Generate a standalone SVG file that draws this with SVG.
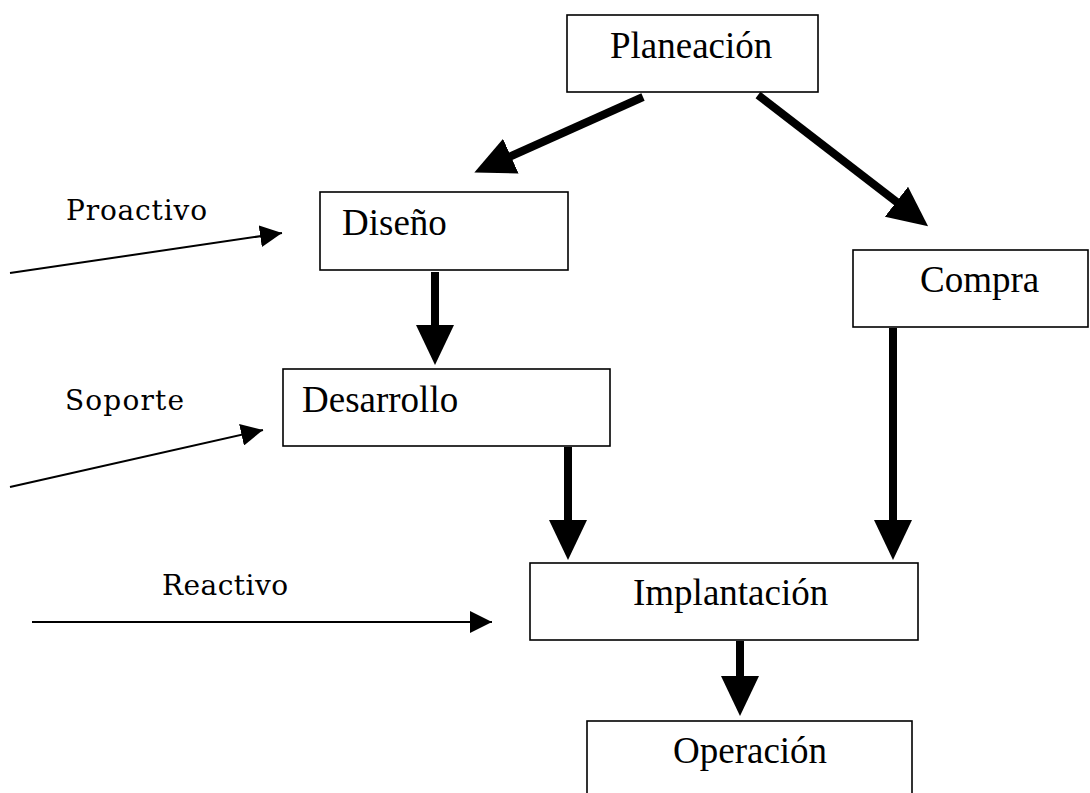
<svg xmlns="http://www.w3.org/2000/svg" width="1090" height="793" viewBox="0 0 1090 793">
  <style>
    .box { fill: #ffffff; stroke: #000000; stroke-width: 1.6; }
    .name { font-family: "Liberation Serif", "Times New Roman", serif; font-size: 37px; fill: #000000; }
    .side { font-family: "DejaVu Serif", "Liberation Serif", serif; font-size: 28px; fill: #000000; }
    .thick { stroke: #000000; stroke-width: 8; fill: none; marker-end: url(#bighead); }
    .thin { stroke: #000000; stroke-width: 2; fill: none; marker-end: url(#smallhead); }
  </style>
  <defs>
    <marker id="bighead" markerUnits="userSpaceOnUse" markerWidth="42" markerHeight="38" refX="2" refY="19" orient="auto">
      <path d="M0,0 L40,19 L0,38 z" fill="#000000"/>
    </marker>
    <marker id="smallhead" markerUnits="userSpaceOnUse" markerWidth="24" markerHeight="22" refX="22" refY="11" orient="auto">
      <path d="M0,0 L22,11 L0,22 z" fill="#000000"/>
    </marker>
  </defs>
  <rect width="1090" height="793" fill="#ffffff"/>

  <g id="connectors">
    <line class="thick" x1="643" y1="97" x2="509" y2="157"/>
    <line class="thick" x1="758" y1="95" x2="898" y2="203"/>
    <line class="thick" x1="435" y1="272" x2="435" y2="327"/>
    <line class="thick" x1="568" y1="447" x2="568" y2="522"/>
    <line class="thick" x1="893" y1="328" x2="893" y2="522"/>
    <line class="thick" x1="740" y1="641" x2="740" y2="678"/>
    <line class="thin" x1="10" y1="273" x2="282" y2="233"/>
    <line class="thin" x1="10" y1="487" x2="263" y2="430"/>
    <line class="thin" x1="32" y1="622" x2="492" y2="622"/>
  </g>

  <g id="planeacion">
    <rect class="box" x="567" y="15" width="251" height="77"/>
    <text class="name" x="610" y="58">Planeación</text>
  </g>
  <g id="diseno">
    <rect class="box" x="320" y="192" width="248" height="78"/>
    <text class="name" x="342" y="235">Diseño</text>
  </g>
  <g id="compra">
    <rect class="box" x="853" y="250" width="235" height="77"/>
    <text class="name" x="920" y="292">Compra</text>
  </g>
  <g id="desarrollo">
    <rect class="box" x="283" y="369" width="327" height="77"/>
    <text class="name" x="302" y="412">Desarrollo</text>
  </g>
  <g id="implantacion">
    <rect class="box" x="530" y="563" width="388" height="77"/>
    <text class="name" x="633" y="605">Implantación</text>
  </g>
  <g id="operacion">
    <rect class="box" x="587" y="721" width="325" height="90"/>
    <text class="name" x="673" y="763">Operación</text>
  </g>

  <g id="labels">
    <text class="side" x="66" y="220" textLength="141">Proactivo</text>
    <text class="side" x="65" y="410" textLength="119">Soporte</text>
    <text class="side" x="162" y="595" textLength="126">Reactivo</text>
  </g>
</svg>
